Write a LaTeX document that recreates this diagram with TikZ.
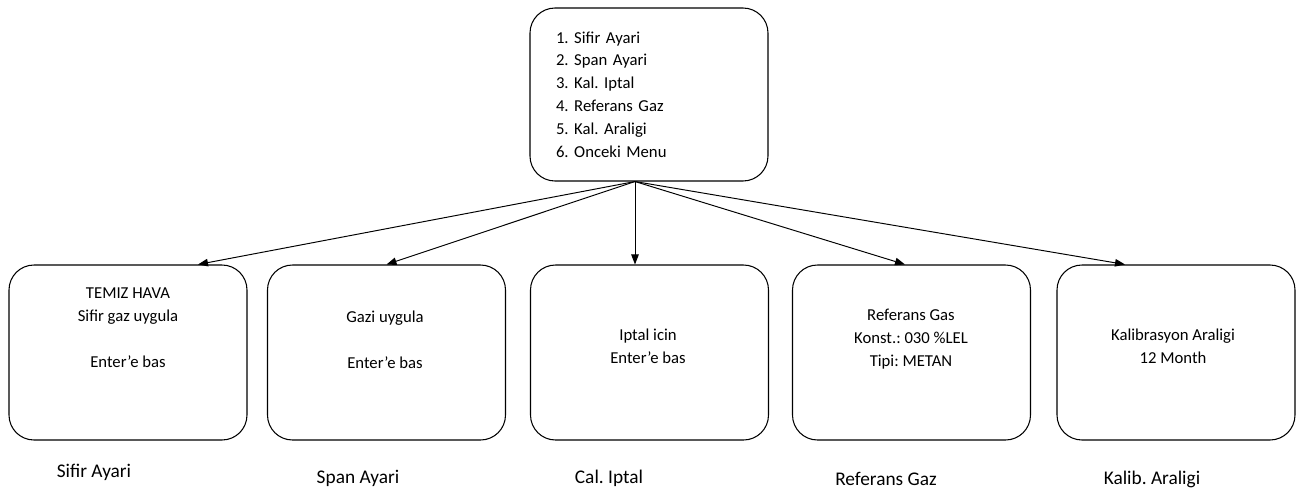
\documentclass[tikz,border=0pt]{standalone}
\usepackage{fontspec}
\setmainfont{Carlito}
\usetikzlibrary{arrows.meta, positioning, calc}
\frenchspacing

\begin{document}
\begin{tikzpicture}[
    box/.style={draw, line width=0.6pt, rounded corners=0.5cm,
                minimum width=4.76cm, minimum height=3.5cm},
    txt/.style={align=center, font=\fontsize{9.5}{13}\selectfont},
    lbl/.style={font=\fontsize{11}{13}\selectfont},
    arr/.style={-{Triangle[length=2mm, width=1.5mm]}, line width=0.55pt}]
  \useasboundingbox (0,0) rectangle (26.08,-9.78);
  % menu on top
  \node[box, minimum height=3.46cm, text width=3.72cm, inner xsep=0.52cm,
        align=left, font=\fontsize{9.5}{13}\selectfont] (menu) at (12.98,-1.89)
        {1. Sifir Ayari\\2. Span Ayari\\3. Kal. Iptal\\4. Referans Gaz\\5. Kal. Araligi\\6. Onceki Menu};
  \coordinate (hub) at ([xshift=-0.28cm]menu.south);
  % screens
  \node[box] (zero) at (2.56,-7.05) {};
  \node[box] (span) at (7.73,-7.05) {};
  \node[box] (cancel) at (12.99,-7.05) {};
  \node[box] (ref) at (18.23,-7.05) {};
  \node[box] (intv) at (23.52,-7.05) {};
  \node[txt] (zerotxt) at (2.56,-6.55) {TEMIZ HAVA\\Sifir gaz uygula\\~\\Enter'e bas};
  \node[txt] (spantxt) at (7.70,-6.79) {Gazi uygula\\~\\Enter'e bas};
  \node[txt] (canceltxt) at (12.96,-6.93) {Iptal icin\\Enter'e bas};
  \node[txt] (reftxt) at (18.22,-6.78) {Referans Gas\\Konst.: 030 \%LEL\\Tipi: METAN};
  \node[txt] (intvtxt) at (23.46,-6.93) {Kalibrasyon Araligi\\12 Month};
  % captions
  \node[lbl] (zerolbl) at (1.88,-9.44) {Sifir Ayari};
  \node[lbl] (spanlbl) at (7.16,-9.56) {Span Ayari};
  \node[lbl] (cancellbl) at (12.18,-9.56) {Cal. Iptal};
  \node[lbl] (reflbl) at (17.72,-9.58) {Referans Gaz};
  \node[lbl] (intvlbl) at (23.04,-9.58) {Kalib. Araligi};
  % arrows
  \draw[arr] (hub) -- ([xshift=1.4cm]zero.north);
  \draw[arr] (hub) -- (span.north);
  \draw[arr] (hub) -- (hub |- cancel.north);
  \draw[arr] (hub) -- ([xshift=-0.13cm]ref.north);
  \draw[arr] (hub) -- ([xshift=-1.02cm]intv.north);
\end{tikzpicture}
\end{document}
